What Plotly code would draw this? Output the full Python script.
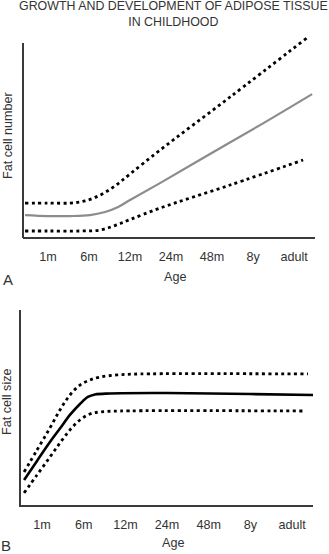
import plotly.graph_objects as go

categories = ["1m", "6m", "12m", "24m", "48m", "8y", "adult"]
tick_pos = list(range(len(categories)))

# Panel A: fat cell number (x in category units, y arbitrary units)
a_mid_x = [-0.56, 0, 0.54, 1.02, 1.39, 1.71, 2.0, 2.73, 3.95, 5.17, 6.44]
a_mid_y = [11.3, 10.8, 10.8, 11.3, 12.9, 15.5, 19.1, 27.8, 42.8, 57.7, 73.7]
a_up_x = [-0.56, 0, 0.54, 0.90, 1.27, 1.63, 2.0, 2.73, 4.44, 6.34]
a_up_y = [17.5, 17.5, 17.5, 18.6, 21.6, 26.3, 32.5, 44.8, 72.2, 103.1]
a_lo_x = [-0.56, 0, 0.78, 1.27, 1.63, 2.0, 2.73, 4.44, 6.22]
a_lo_y = [3.1, 3.1, 3.1, 3.6, 5.9, 9.0, 14.9, 26.8, 39.7]

# Panel B: fat cell size
b_mid_x = [-0.43, -0.12, 0.19, 0.43, 0.67, 0.91, 1.10, 1.27, 1.63, 3.0, 5.0, 6.5]
b_mid_y = [12.8, 22.6, 32.3, 39.2, 46.2, 51.8, 55.4, 56.7, 57.2, 57.4, 56.9, 56.4]
b_up_x = [-0.43, -0.12, 0.19, 0.43, 0.67, 0.91, 1.15, 1.39, 1.80, 2.35, 6.38]
b_up_y = [16.9, 28.2, 39.5, 48.7, 56.4, 61.5, 64.1, 65.6, 66.7, 67.2, 67.2]
b_lo_x = [-0.43, -0.12, 0.19, 0.43, 0.67, 0.91, 1.15, 1.39, 1.87, 6.31]
b_lo_y = [6.2, 15.4, 24.6, 31.8, 38.5, 43.6, 46.7, 47.7, 48.2, 48.2]

W, H = 329, 554
FONT = "Liberation Sans, Arial, sans-serif"
TXT = "#333333"
AX = "#3a3a3a"
DOT = dict(color="black", width=2.8, dash="3px,3.4px")

fig = go.Figure()

def add(x, y, line, xa, ya):
    fig.add_trace(go.Scatter(x=x, y=y, mode="lines", xaxis=xa, yaxis=ya,
                             line=dict(shape="spline", smoothing=1.0, **line),
                             showlegend=False, hoverinfo="skip"))

add(a_up_x, a_up_y, DOT, "x", "y")
add(a_lo_x, a_lo_y, DOT, "x", "y")
add(a_mid_x, a_mid_y, dict(color="#8c8c8c", width=2.2), "x", "y")
add(b_up_x, b_up_y, DOT, "x2", "y2")
add(b_lo_x, b_lo_y, DOT, "x2", "y2")
add(b_mid_x, b_mid_y, dict(color="black", width=2.6), "x2", "y2")

def px_x(p):
    return p / W

def px_y(p):
    return 1 - p / H

xcommon = dict(tickmode="array", tickvals=tick_pos, ticktext=categories,
               showgrid=False, zeroline=False, showline=True, linecolor=AX,
               linewidth=2, ticks="outside", ticklen=7, tickcolor="rgba(0,0,0,0)",
               tickfont=dict(family=FONT, size=12.6, color=TXT), fixedrange=True)
ycommon = dict(showgrid=False, zeroline=False, showticklabels=False,
               ticks="", fixedrange=True)

fig.update_layout(
    width=W, height=H, margin=dict(l=0, r=0, t=0, b=0),
    paper_bgcolor="white", plot_bgcolor="white",
    xaxis=dict(domain=[px_x(23), px_x(315)], range=[-0.61, 6.51], anchor="y", **xcommon),
    yaxis=dict(domain=[px_y(237), px_y(33)], range=[0, 105.2], anchor="x",
               showline=False, **ycommon),
    xaxis2=dict(domain=[px_x(21), px_x(313)], range=[-0.504, 6.5], anchor="y2", **xcommon),
    yaxis2=dict(domain=[px_y(505), px_y(310)], range=[0, 100], anchor="x2",
                showline=True, linecolor=AX, linewidth=2, **ycommon),
    shapes=[dict(type="line", xref="paper", yref="paper",
                 x0=px_x(23), x1=px_x(23), y0=px_y(238), y1=px_y(43),
                 line=dict(color=AX, width=2))],
)

def ann(text, x, y, size=12.6, angle=0):
    fig.add_annotation(text=text, x=px_x(x), y=px_y(y), xref="paper", yref="paper",
                       showarrow=False, textangle=angle, xanchor="center", yanchor="middle",
                       font=dict(family=FONT, size=size, color=TXT))

ann("GROWTH AND DEVELOPMENT OF ADIPOSE TISSUE<br>IN CHILDHOOD", 173, 14, size=12.4)
ann("Fat cell number", 8, 136, angle=-90)
ann("Age", 175, 277)
ann("A", 8, 279, size=15)
ann("Fat cell size", 7, 402, angle=-90)
ann("Age", 173, 543)
ann("B", 6, 545, size=15)

fig.write_html("out.html")
